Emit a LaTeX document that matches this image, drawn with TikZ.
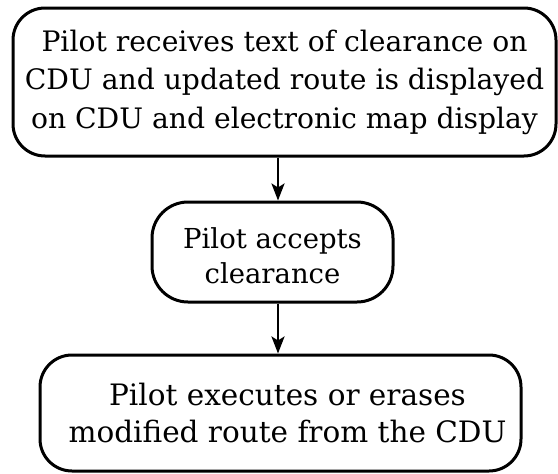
\documentclass[tikz,border=0pt]{standalone}
\usepackage{fontspec}
\setmainfont{DejaVu Serif}
\usetikzlibrary{arrows.meta}
\begin{document}
\begin{tikzpicture}[x=1pt,y=-1pt,
  stepbox/.style={draw, line width=3pt, rounded corners=32pt, align=center,
    inner sep=0pt},
  flow/.style={line width=2.6pt, -{Stealth[length=17pt,width=13pt,inset=4pt]}}]
  \useasboundingbox (0,0) rectangle (558,474);
  % boxes
  \node[stepbox, minimum width=543pt, minimum height=148pt] (top) at (284.5,82) {};
  \node[stepbox, minimum width=241pt, minimum height=100pt, rounded corners=36pt] (mid) at (272.5,252) {};
  \node[stepbox, minimum width=481pt, minimum height=116pt] (bot) at (280.5,413) {};
  % texts
  \node[align=center, inner sep=0pt, font=\fontsize{28.2}{38.5}\selectfont] (toptext) at (top.center)
    {Pilot receives text of clearance on\\CDU and updated route is displayed\\on CDU and electronic map display};
  \node[align=center, inner sep=0pt, font=\fontsize{27.5}{35}\selectfont] (midtext) at ([yshift=-4pt]mid.center)
    {Pilot accepts\\clearance};
  \node[align=center, inner sep=0pt, font=\fontsize{29.5}{37}\selectfont] (bottext) at ([xshift=7pt]bot.center)
    {Pilot executes or erases\\modified route from the CDU};
  % connectors
  \coordinate (ax) at (278,0);
  \draw[flow] (top.south -| ax) -- (mid.north -| ax);
  \draw[flow] (mid.south -| ax) -- (bot.north -| ax);
\end{tikzpicture}
\end{document}
